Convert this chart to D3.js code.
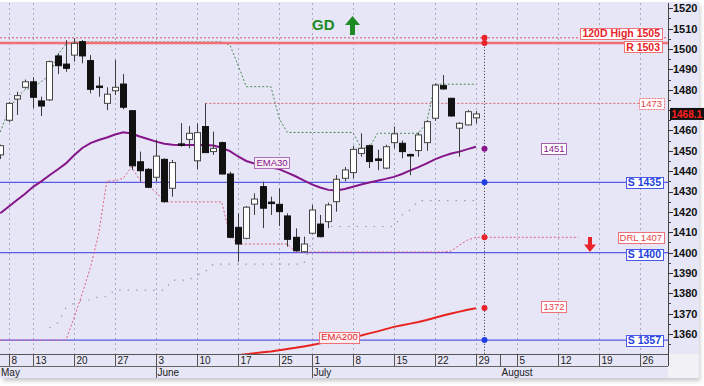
<!DOCTYPE html>
<html>
<head>
<meta charset="utf-8">
<script src="https://cdn.jsdelivr.net/npm/d3@7"></script>
<style>
html, body { margin: 0; padding: 0; background: #fff; }
svg { display: block; font-family: Arial, "Liberation Sans", sans-serif; }
</style>
</head>
<body>
<div id="chart"></div>
<script>
// trading-day index of the first candle in the arrays below
const firstIdx = -1;

const opens  = [1448, 1465, 1475.4, 1481.2, 1483.9, 1474.5, 1475, 1496.6, 1492.6, 1497, 1503.6, 1494.3, 1481.8, 1473.3, 1479.5, 1482.8,
  1469.7, 1444.6, 1440.9, 1437, 1445.8, 1431.6, 1453.1, 1455.6, 1445.1, 1461.9, 1449.6, 1454, 1438.6, 1412.4, 1407,
  1423.8, 1432.4, 1424.8, 1423.7, 1418, 1407.5, 1400.4, 1409.5, 1414, 1415.2, 1425, 1436.5, 1439.3, 1448.7, 1452.5,
  1446, 1441.5, 1454, 1453.7, 1448.2, 1450.1, 1454, 1466, 1482, 1475.8, 1461.1, 1462.7, 1466.2];
const highs  = [1453, 1474, 1479, 1485, 1486.1, 1476.6, 1494.3, 1497.9, 1504.4, 1505.3, 1504.4, 1497, 1486.4, 1481.2, 1494.6, 1487.7,
  1470, 1449.6, 1441.5, 1455.3, 1446.3, 1445.5, 1463.6, 1462.2, 1463.5, 1473.3, 1459.4, 1454.5, 1439.7, 1419.3, 1422.8,
  1429.1, 1434.8, 1427.5, 1431.6, 1419.3, 1411.9, 1407.8, 1423.4, 1418.5, 1424.5, 1438.1, 1442, 1452.4, 1458.6, 1453,
  1450.5, 1453, 1461.9, 1455, 1448.6, 1459, 1465, 1483, 1487.2, 1476, 1464, 1470, 1469.5];
const lows   = [1446, 1464, 1467.6, 1480.5, 1470.9, 1467.1, 1474.5, 1487.7, 1488.8, 1493.8, 1493, 1478.2, 1476.6, 1470, 1477.4, 1470.4,
  1440.6, 1434.8, 1431.6, 1434.8, 1424.5, 1427.5, 1452, 1451.2, 1440.9, 1449, 1448, 1438.4, 1407, 1395.5, 1406.5,
  1418.5, 1412, 1418.5, 1413.1, 1402.9, 1400.4, 1400, 1409, 1407.5, 1412, 1420.1, 1435, 1436.5, 1447.1, 1441.5,
  1440.5, 1441, 1451.2, 1446.3, 1438, 1447.1, 1450, 1464.7, 1480, 1466.8, 1447.1, 1462.5, 1463.5];
const closes = [1452.5, 1473.3, 1477.1, 1483.9, 1476.3, 1472, 1493.8, 1491.8, 1490.5, 1502.8, 1496.6, 1480.2, 1481.2, 1477.8, 1481.2, 1471.4,
  1442.6, 1440.2, 1432.1, 1447.4, 1425, 1444.2, 1453.4, 1458.6, 1458.9, 1449.1, 1451.2, 1438.6, 1407.5, 1404.2, 1422.3,
  1426.3, 1421.8, 1424.3, 1420.1, 1406.5, 1400.9, 1404.2, 1420.9, 1407.8, 1423.4, 1436, 1440.6, 1450.7, 1451.2, 1444.7,
  1445.8, 1452, 1458.3, 1449.6, 1448, 1457.8, 1464.3, 1482.3, 1480.4, 1467.1, 1463.5, 1469.2, 1468.1];

// indicator lines (start index given with each)
const ema30Start = -1;
const ema30 = [1419.3, 1422.5, 1425.7, 1428.8, 1432.3, 1435, 1438, 1440.8, 1443.8, 1447.8, 1451.4, 1453.8, 1455.3, 1456.5, 1458, 1459.1,
  1458.5, 1457, 1455.8, 1454.5, 1453.5, 1453, 1452.8, 1452.8, 1452.8, 1452.8, 1452.6, 1451.5, 1449.8, 1447.2, 1445,
  1443.7, 1442.8, 1441.8, 1441, 1439.3, 1437.5, 1435.5, 1433.5, 1432, 1430.8, 1430.5, 1431.2, 1432.3, 1433.4, 1434.4,
  1435.3, 1436.2, 1437.2, 1438.6, 1440.4, 1442, 1443.8, 1445.8, 1447.4, 1448.7, 1449.6, 1450.8, 1452];
const ema200Start = 28;
const ema200 = [1349.6, 1350.1, 1350.6, 1351, 1351.4, 1352, 1352.6, 1353.2, 1353.9, 1354.6, 1355.4, 1356.2, 1357.1, 1357.9, 1358.6,
  1359.3, 1360.3, 1361.3, 1362.4, 1363.5, 1364.3, 1365.1, 1365.9, 1366.9, 1368, 1369.1, 1370.1, 1371, 1371.9, 1372.6];
const drlStart = -1;
const drl = [1357, 1357, 1357, 1357, 1357, 1357, 1357, 1357, 1357, 1368, 1380, 1392.8, 1409.4, 1435.2, 1435.2, 1436.6,
  1442, 1435.7, 1432.7, 1429.8, 1424.9, 1424.9, 1424.9, 1424.9, 1424.9, 1424.9, 1424.9, 1424.9, 1408.6, 1404.2, 1404.2,
  1404.2, 1404.2, 1404.2, 1404.2, 1404.2, 1400.3, 1400.3, 1400.3, 1400.3, 1400.3, 1400.3, 1400.3, 1400.3, 1400.3, 1400.3,
  1400.3, 1400.3, 1400.3, 1400.3, 1400.3, 1400.3, 1400.3, 1400.3, 1400.3, 1400.8, 1403.7, 1406.2, 1407.5];
const upperStart = -1;
const upperTrail = [1459.2, 1470, 1476, 1480, 1481, 1484, 1487, 1497, 1502.5, 1503.5, 1503.5, 1503.5, 1503.5, 1503.5, 1503.5, 1503.5,
  1503.5, 1503.5, 1503.5, 1503.5, 1503.5, 1503.5, 1503.5, 1503.5, 1503.5, 1503.5, 1503.5, 1503.5, 1502, 1492, 1481.5,
  1481.5, 1481.5, 1481.5, 1466, 1459, 1459, 1459, 1459, 1459, 1459, 1459, 1459, 1459, 1451.5, 1451.5,
  1458.6, 1458.6, 1458.6, 1458.6, 1458.6, 1458.6, 1464, 1482.7, 1482.7, 1482.7, 1482.7, 1482.7, 1482.7];
const lowerStart = 5;
const lowerTrail = [1362.9, 1365.4, 1372.8, 1375.2, 1376.7, 1376.7, 1378.3, 1378.3, 1381.6, 1381.6, 1381.6, 1381.6, 1381.6, 1381.6, 1381.6,
  1386.5, 1386.5, 1386.5, 1389, 1390.6, 1394.3, 1394.3, 1394.3, 1394.3, 1394.3, 1394.3, 1394.3, 1394.3, 1394.3, 1394.3,
  1394.3, 1394.3, 1406, 1412.8, 1412.8, 1412.8, 1412.8, 1412.8, 1412.8, 1412.8, 1412.8, 1412.8, 1412.8, 1418.5, 1421,
  1425.5, 1425.5, 1425.5, 1425.5, 1425.5, 1425.5, 1425.5, 1425.5];

// x axis
const dayTickIdx = [0, 3, 8, 13, 18, 23, 28, 33, 37, 42, 47, 52, 57, 62, 67, 72, 77];
const dayTickLabels = ["8", "13", "20", "27", "3", "10", "17", "25", "1", "8", "15", "22", "29", "5", "12", "19", "26"];
const monthIdx = [-1.2, 18, 37, 60];
const monthLabels = ["May", "June", "July", "August"];
const yTicks = d3.range(1360, 1521, 10);

// horizontal levels
const supportValues = [1434.5, 1400, 1357];
const supportLabels = ["S 1435", "S 1400", "S 1357"];
const resistanceValue = 1503;
const highValue = 1505.5;
const level1473 = 1473.3;
const drlLast = 1407.5;
const ema30Last = 1451;
const ema200Last = 1372.8;
const lastPrice = 1468.1;
const markerIdx = 58;

const W = 704, H = 386;
const plot = {left: 0, right: 668, top: 3, bottom: 354};

const x = d3.scaleLinear().domain([0, 57]).range([8.5, 475.9]);
const y = d3.scaleLinear().domain([1360, 1520]).range([334, 8.3]);

const svg = d3.select("#chart").append("svg").attr("width", W).attr("height", H);

const defs = svg.append("defs");
defs.append("clipPath").attr("id", "clip")
  .append("rect").attr("x", plot.left).attr("y", plot.top)
  .attr("width", plot.right - plot.left).attr("height", plot.bottom - plot.top);
const blur = defs.append("filter").attr("id", "shadow").attr("x", "-5%").attr("y", "-5%").attr("width", "110%").attr("height", "110%");
blur.append("feGaussianBlur").attr("stdDeviation", 2);

// frame + shadow
svg.append("rect").attr("x", 3).attr("y", 5).attr("width", 697).attr("height", 376)
  .attr("fill", "#c8c8cc").attr("filter", "url(#shadow)");
svg.append("rect").attr("x", 0).attr("y", 2).attr("width", 699).attr("height", 376).attr("fill", "#f2f2f6");
svg.append("rect").attr("x", 0).attr("y", 2).attr("width", 699).attr("height", plot.bottom - 2).attr("fill", "#e6e6f7");
svg.append("rect").attr("x", 0).attr("y", plot.bottom).attr("width", plot.right).attr("height", 24).attr("fill", "#e6e6f7");

// vertical grid
svg.append("g").selectAll("line").data(dayTickIdx).join("line")
  .attr("x1", d => Math.round(x(d)) + 0.5).attr("x2", d => Math.round(x(d)) + 0.5)
  .attr("y1", plot.top).attr("y2", plot.bottom)
  .attr("stroke", "#a9a9c2").attr("stroke-width", 1).attr("stroke-dasharray", "2,3");

const g = svg.append("g").attr("clip-path", "url(#clip)");

function series(vals, start) {
  return vals.map((v, k) => ({i: start + k, v: v}));
}
const line = d3.line().x(d => x(d.i)).y(d => y(d.v));

// horizontal levels
g.append("line").attr("x1", plot.left).attr("x2", plot.right)
  .attr("y1", y(highValue)).attr("y2", y(highValue))
  .attr("stroke", "#e0506a").attr("stroke-dasharray", "2,2");
g.append("line").attr("x1", x(24)).attr("x2", 640)
  .attr("y1", y(level1473)).attr("y2", y(level1473))
  .attr("stroke", "#e0606e").attr("stroke-dasharray", "2,2");

// dotted trailing lines
g.append("path").datum(series(lowerTrail, lowerStart)).attr("d", line)
  .attr("fill", "none").attr("stroke", "#9c9cae").attr("stroke-width", 1.2).attr("stroke-dasharray", "1.5,7");
g.append("path").datum(series(upperTrail, upperStart)).attr("d", line)
  .attr("fill", "none").attr("stroke", "#4f8a55").attr("stroke-width", 1).attr("stroke-dasharray", "2,2");

g.append("line").attr("x1", plot.left).attr("x2", plot.right)
  .attr("y1", y(resistanceValue)).attr("y2", y(resistanceValue))
  .attr("stroke", "#f07078").attr("stroke-width", 2.5);

g.selectAll(".support").data(supportValues).join("line").attr("class", "support")
  .attr("x1", plot.left).attr("x2", plot.right)
  .attr("y1", d => y(d)).attr("y2", d => y(d))
  .attr("stroke", "#5a5ae6").attr("stroke-width", 1.3);

const drlData = series(drl, drlStart).concat([{i: 69.5, v: drlLast}]);
g.append("path").datum(drlData).attr("d", line)
  .attr("fill", "none").attr("stroke", "#e0607a").attr("stroke-width", 1).attr("stroke-dasharray", "2,2");

// moving averages
g.append("path").datum(series(ema30, ema30Start)).attr("d", line)
  .attr("fill", "none").attr("stroke", "#86158a").attr("stroke-width", 2);
g.append("path").datum(series(ema200, ema200Start)).attr("d", line)
  .attr("fill", "none").attr("stroke", "#e8231f").attr("stroke-width", 2);

// candles
const candles = opens.map((o, k) => ({i: firstIdx + k, o: o, h: highs[k], l: lows[k], c: closes[k]}));
const bw = 6;
const cg = g.append("g");
cg.selectAll(".wick").data(candles).join("line").attr("class", "wick")
  .attr("x1", d => Math.round(x(d.i)) + 0.5).attr("x2", d => Math.round(x(d.i)) + 0.5)
  .attr("y1", d => y(d.h)).attr("y2", d => y(d.l))
  .attr("stroke", "#3a3a3a").attr("stroke-width", 1);
cg.selectAll(".body").data(candles).join("rect").attr("class", "body")
  .attr("x", d => Math.round(x(d.i)) - bw / 2 + 0.5)
  .attr("y", d => y(Math.max(d.o, d.c)))
  .attr("width", bw)
  .attr("height", d => Math.max(1.5, Math.abs(y(d.o) - y(d.c))))
  .attr("fill", d => (d.c > d.o && Math.abs(d.c - d.o) > 0.6) ? "#ffffff" : "#111111")
  .attr("stroke", d => (d.c > d.o && Math.abs(d.c - d.o) > 0.6) ? "#444" : "#111")
  .attr("stroke-width", 1);

// marker column
const mx = Math.round(x(markerIdx)) + 0.5;
svg.append("line").attr("x1", mx).attr("x2", mx).attr("y1", y(highValue)).attr("y2", plot.bottom)
  .attr("stroke", "#333").attr("stroke-dasharray", "1,2");
const dotValues = [highValue, resistanceValue, ema30Last, supportValues[0], drlLast, ema200Last, supportValues[2]];
const dotColors = ["#e8232a", "#e8232a", "#86158a", "#1f3fe0", "#e8232a", "#e8232a", "#1f3fe0"];
svg.selectAll(".dot").data(dotValues).join("circle").attr("class", "dot")
  .attr("cx", mx).attr("cy", d => y(d)).attr("r", 3)
  .attr("fill", (d, k) => dotColors[k]);

// y axis (the 1470 label sits under the last-price box, so it is left out)
const yAxis = svg.append("g").attr("transform", `translate(${plot.right},0)`);
yAxis.append("line").attr("x1", 0.5).attr("x2", 0.5).attr("y1", plot.top).attr("y2", 366).attr("stroke", "#444");
yAxis.selectAll(".minor").data(d3.range(1355, 1521, 5)).join("line").attr("class", "minor")
  .attr("x1", 0).attr("x2", 3).attr("y1", d => Math.round(y(d)) + 0.5).attr("y2", d => Math.round(y(d)) + 0.5)
  .attr("stroke", "#444");
yAxis.selectAll(".major").data(yTicks).join("line").attr("class", "major")
  .attr("x1", 0).attr("x2", 5).attr("y1", d => Math.round(y(d)) + 0.5).attr("y2", d => Math.round(y(d)) + 0.5)
  .attr("stroke", "#333");
yAxis.selectAll(".ylab").data(yTicks.filter(d => Math.abs(y(d) - y(lastPrice)) > 8)).join("text").attr("class", "ylab")
  .attr("x", 5).attr("y", d => y(d)).attr("dy", "0.36em")
  .attr("font-size", 11).attr("font-weight", "bold").attr("fill", "#111")
  .text(d => d);

// x axis
const xa = svg.append("g");
xa.append("line").attr("x1", 0).attr("x2", plot.right).attr("y1", plot.bottom + 0.5).attr("y2", plot.bottom + 0.5).attr("stroke", "#555");
xa.append("line").attr("x1", 0).attr("x2", plot.right).attr("y1", 366.5).attr("y2", 366.5).attr("stroke", "#666");
xa.selectAll(".dtick").data(dayTickIdx.concat([60])).join("line").attr("class", "dtick")
  .attr("x1", d => Math.round(x(d)) + 0.5).attr("x2", d => Math.round(x(d)) + 0.5)
  .attr("y1", plot.bottom).attr("y2", 366).attr("stroke", "#555");
xa.selectAll(".mtick").data(monthIdx.slice(1, 3)).join("line").attr("class", "mtick")
  .attr("x1", d => Math.round(x(d)) + 0.5).attr("x2", d => Math.round(x(d)) + 0.5)
  .attr("y1", plot.bottom).attr("y2", 378).attr("stroke", "#555");
xa.selectAll(".dlab").data(dayTickIdx).join("text").attr("class", "dlab")
  .attr("x", d => Math.round(x(d)) + 2.5).attr("y", 364)
  .attr("font-size", 10).attr("fill", "#222")
  .text((d, k) => dayTickLabels[k]);
xa.selectAll(".mlab").data(monthIdx).join("text").attr("class", "mlab")
  .attr("x", d => Math.max(1, Math.round(x(d)) + 1.5)).attr("y", 376)
  .attr("font-size", 10).attr("fill", "#222")
  .text((d, k) => monthLabels[k]);

// level tags
function tag(opt) {
  const t = svg.append("text")
    .attr("x", opt.x).attr("y", opt.y).attr("dy", "0.35em")
    .attr("text-anchor", opt.anchor || "middle")
    .attr("font-size", opt.size || 9.5)
    .attr("font-weight", opt.bold ? "bold" : "normal")
    .attr("fill", opt.color)
    .text(opt.text);
  const b = t.node().getBBox();
  const h = opt.h || 11;
  svg.insert("rect", () => t.node())
    .attr("x", Math.round(b.x - 2) + 0.5).attr("y", Math.round(opt.y - h / 2) + 0.5)
    .attr("width", Math.round(b.width + 4)).attr("height", h)
    .attr("fill", opt.fill || "#fff")
    .attr("stroke", opt.border || opt.color)
    .attr("stroke-dasharray", opt.dash || null);
}
tag({x: 660, y: y(highValue) - 4, text: "120D High 1505", anchor: "end", bold: true, size: 10.5, color: "#e8232a", border: "#f07078"});
tag({x: 660, y: y(resistanceValue) + 4, text: "R 1503", anchor: "end", bold: true, size: 10.5, color: "#e8232a", border: "#f07078"});
tag({x: 662, y: y(level1473), text: "1473", anchor: "end", color: "#e8404a", border: "#f07078", dash: "2,1"});
tag({x: 554, y: y(ema30Last), text: "1451", color: "#86158a", border: "#a060a8"});
tag({x: 272, y: 162.5, text: "EMA30", color: "#86158a", border: "#b070b8", fill: "#f6eef6"});
tag({x: 339.5, y: 337, text: "EMA200", color: "#e8232a", border: "#f07078", fill: "#fbeef0"});
supportLabels.forEach((s, k) => {
  tag({x: 661, y: y(supportValues[k]) + (k === 1 ? 2 : 0), text: s, anchor: "end", bold: true, size: 10.5, color: "#1f3fe0", border: "#4a5ae6"});
});
tag({x: 662, y: y(drlLast), text: "DRL 1407", anchor: "end", color: "#e8404a", border: "#f07078"});
tag({x: 554, y: y(ema200Last) - 1, text: "1372", color: "#e8404a", border: "#f07078"});

// last price box
svg.append("rect").attr("x", 670).attr("y", y(lastPrice) - 6).attr("width", 34).attr("height", 12).attr("fill", "#111");
svg.append("text").attr("x", 671.5).attr("y", y(lastPrice)).attr("dy", "0.36em")
  .attr("font-size", 10).attr("font-weight", "bold").attr("fill", "#ff2020")
  .text("1468.1");

// GD signal and arrows
svg.append("text").attr("x", 312).attr("y", 29.5)
  .attr("font-size", 15).attr("font-weight", "bold").attr("fill", "#1d8a24").text("GD");
svg.append("path")
  .attr("d", "M352.5,16 L360,25 L355,25 L355,35 L350,35 L350,25 L345,25 Z")
  .attr("fill", "#1d8a24");
svg.append("path")
  .attr("d", "M590,252 L596,244.5 L592,244.5 L592,237 L588,237 L588,244.5 L584,244.5 Z")
  .attr("fill", "#e8232a");
</script>
</body>
</html>
